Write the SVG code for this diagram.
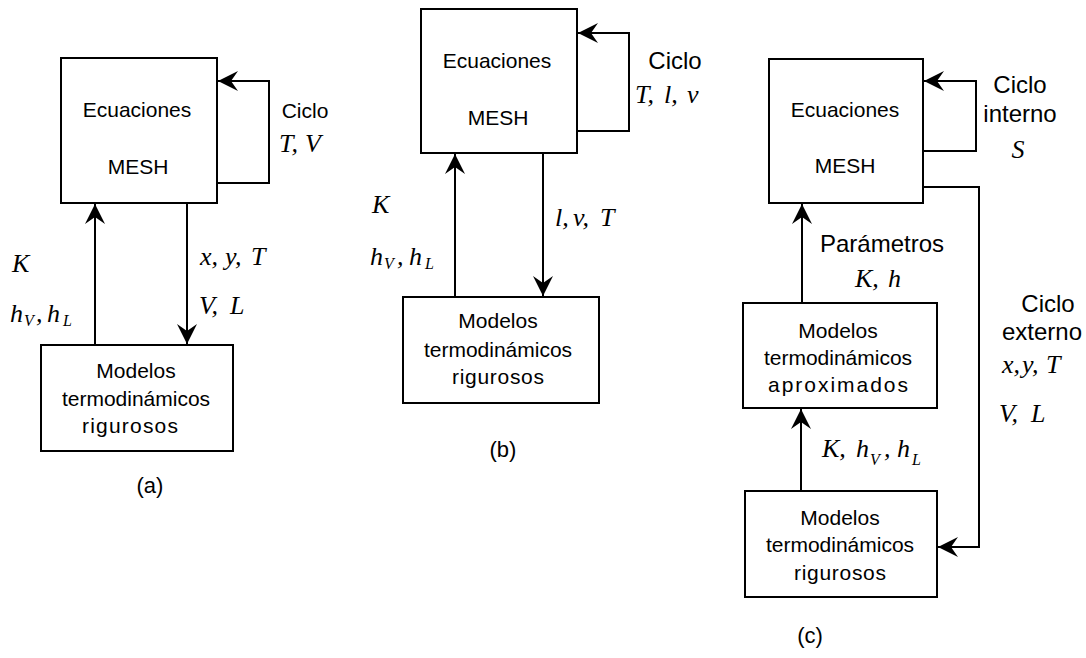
<svg xmlns="http://www.w3.org/2000/svg" width="1086" height="658" viewBox="0 0 1086 658">
<style>
.box{fill:#fff;stroke:#000;stroke-width:2}
.ln{fill:none;stroke:#000;stroke-width:2}
.t{font-family:"Liberation Sans",Arial,sans-serif;font-size:21px;fill:#000;text-anchor:middle}
.big{font-size:24px}
.cap{font-size:22px}
.m{font-family:"Liberation Serif","Times New Roman",serif;font-style:italic;font-size:26px;fill:#000}
.s{font-size:16px}
</style>
<defs>
<marker id="ah" markerUnits="userSpaceOnUse" viewBox="-21 -11 22 22" refX="0" refY="0" markerWidth="22" markerHeight="22" orient="auto">
<path d="M0,0 L-20,-10 L-13,0 L-20,10 Z" fill="#000"/>
</marker>
</defs>
<rect width="1086" height="658" fill="#fff"/>

<g id="connectors">
<path class="ln" d="M217,183 H269 V81 H218" marker-end="url(#ah)"/>
<path class="ln" d="M95,345 V204" marker-end="url(#ah)"/>
<path class="ln" d="M187,203 V344" marker-end="url(#ah)"/>
<path class="ln" d="M575,131 H629 V33 H578" marker-end="url(#ah)"/>
<path class="ln" d="M455,297 V154" marker-end="url(#ah)"/>
<path class="ln" d="M543,153 V296" marker-end="url(#ah)"/>
<path class="ln" d="M923,151 H976 V81 H924" marker-end="url(#ah)"/>
<path class="ln" d="M923,187 H979 V547 H938" marker-end="url(#ah)"/>
<path class="ln" d="M802,303 V204" marker-end="url(#ah)"/>
<path class="ln" d="M801,491 V409" marker-end="url(#ah)"/>
</g>

<g id="a-mesh">
<rect class="box" x="61" y="58" width="156" height="145"/>
<text class="t" x="137" y="117">Ecuaciones</text>
<text class="t" x="138" y="174">MESH</text>
</g>
<g id="a-rig">
<rect class="box" x="41" y="345" width="192" height="106"/>
<text class="t" x="136" y="378">Modelos</text>
<text class="t" x="136" y="406">termodinámicos</text>
<text class="t" x="130" y="433" textLength="96">rigurosos</text>
</g>
<g id="a-labels">
<text class="t" x="305" y="118">Ciclo</text>
<text class="m" y="152"><tspan x="279">T,</tspan><tspan x="305">V</tspan></text>
<text class="m" x="12" y="272">K</text>
<text class="m" y="322"><tspan x="10">h</tspan><tspan class="s" x="24" dy="4">V</tspan><tspan x="36" dy="-4">,</tspan><tspan x="47">h</tspan><tspan class="s" x="63" dy="4">L</tspan></text>
<text class="m" y="265"><tspan x="200">x,</tspan><tspan x="225">y,</tspan><tspan x="251">T</tspan></text>
<text class="m" y="314"><tspan x="199">V,</tspan><tspan x="230">L</tspan></text>
<text class="t cap" x="150" y="493">(a)</text>
</g>

<g id="b-mesh">
<rect class="box" x="421" y="9" width="156" height="144"/>
<text class="t" x="497" y="68">Ecuaciones</text>
<text class="t" x="498" y="125">MESH</text>
</g>
<g id="b-rig">
<rect class="box" x="403" y="297" width="196" height="106"/>
<text class="t" x="498" y="328">Modelos</text>
<text class="t" x="498" y="357">termodinámicos</text>
<text class="t" x="498" y="384" textLength="92">rigurosos</text>
</g>
<g id="b-labels">
<text class="t big" x="675" y="69">Ciclo</text>
<text class="m" y="103"><tspan x="635">T,</tspan><tspan x="664">l,</tspan><tspan x="687">v</tspan></text>
<text class="m" x="372" y="213">K</text>
<text class="m" y="265"><tspan x="370">h</tspan><tspan class="s" x="384" dy="4">V</tspan><tspan x="397" dy="-4">,</tspan><tspan x="409">h</tspan><tspan class="s" x="425" dy="4">L</tspan></text>
<text class="m" y="226"><tspan x="555">l,</tspan><tspan x="573">v,</tspan><tspan x="600">T</tspan></text>
<text class="t cap" x="503" y="457">(b)</text>
</g>

<g id="c-mesh">
<rect class="box" x="769" y="59" width="154" height="144"/>
<text class="t" x="845" y="117">Ecuaciones</text>
<text class="t" x="845" y="173">MESH</text>
</g>
<g id="c-aprox">
<rect class="box" x="743" y="303" width="194" height="105"/>
<text class="t" x="838" y="338">Modelos</text>
<text class="t" x="838" y="365">termodinámicos</text>
<text class="t" x="838" y="392" textLength="140">aproximados</text>
</g>
<g id="c-rig">
<rect class="box" x="745" y="491" width="192" height="106"/>
<text class="t" x="840" y="525">Modelos</text>
<text class="t" x="840" y="552">termodinámicos</text>
<text class="t" x="840" y="580" textLength="92">rigurosos</text>
</g>
<g id="c-labels">
<text class="t big" x="1020" y="93">Ciclo</text>
<text class="t big" x="1020" y="122">interno</text>
<text class="m" x="1018" y="158" text-anchor="middle" font-size="28">S</text>
<text class="t big" x="882" y="252">Parámetros</text>
<text class="m" y="287" font-size="30"><tspan x="855">K,</tspan><tspan x="888">h</tspan></text>
<text class="m" y="457"><tspan x="822">K,</tspan><tspan x="856">h</tspan><tspan class="s" x="870" dy="8">V</tspan><tspan x="884" dy="-8">,</tspan><tspan x="897">h</tspan><tspan class="s" x="912" dy="8">L</tspan></text>
<text class="t big" x="1048" y="312">Ciclo</text>
<text class="t big" x="1042" y="340">externo</text>
<text class="m" y="373"><tspan x="1002">x,</tspan><tspan x="1022">y,</tspan><tspan x="1046">T</tspan></text>
<text class="m" y="422"><tspan x="999">V,</tspan><tspan x="1031">L</tspan></text>
<text class="t cap" x="810" y="643">(c)</text>
</g>
</svg>
